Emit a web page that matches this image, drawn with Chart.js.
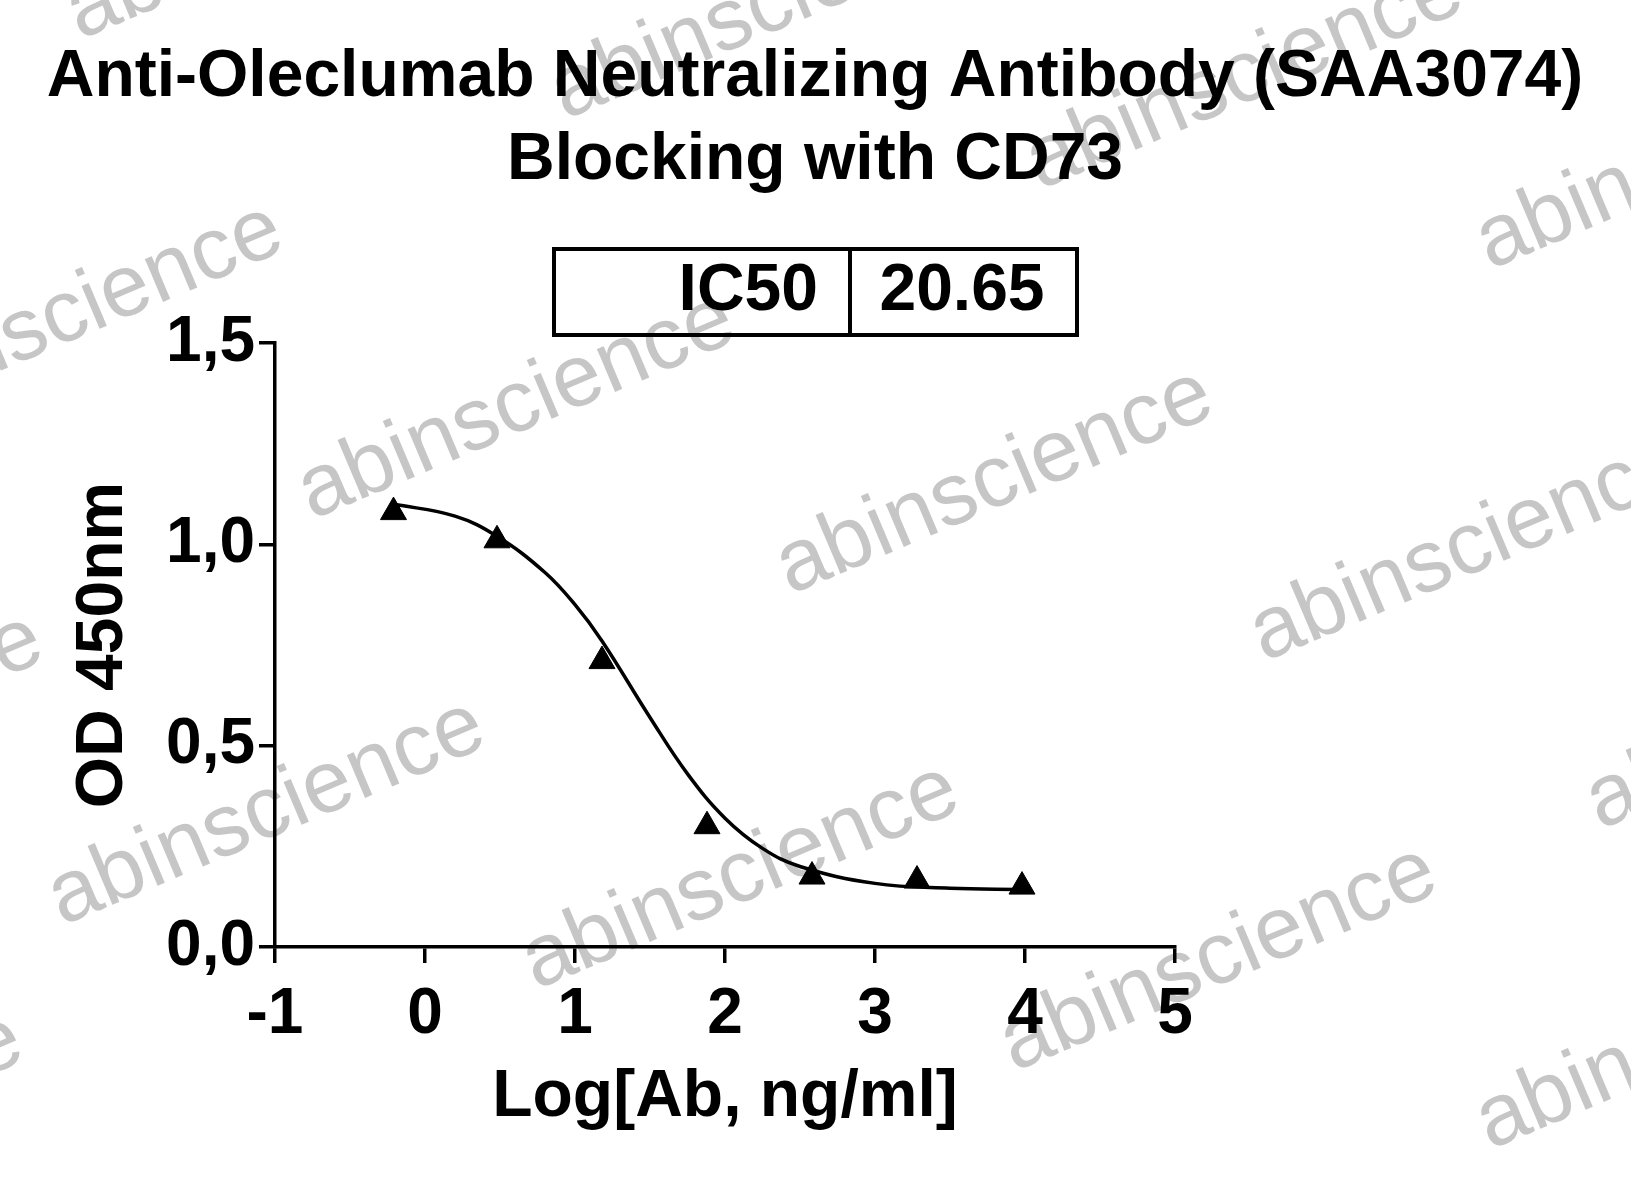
<!DOCTYPE html>
<html><head><meta charset="utf-8">
<script src="https://cdn.jsdelivr.net/npm/chart.js@4"></script>
<style>html,body{margin:0;padding:0;background:#fff}#w{width:1631px;height:1184px}</style>
</head><body><div id="w"><canvas id="c"></canvas></div>
<script>
const logConc = [-0.21, 0.48, 1.18, 1.88, 2.58, 3.28, 3.98];
const odValues = [1.08, 1.01, 0.71, 0.30, 0.175, 0.165, 0.15];
const fitX = [-0.21, 0.2, 0.48, 0.8, 1.0, 1.18, 1.5, 1.75, 2.0, 2.25, 2.5, 3.0, 3.5, 3.98];
const fitY = [1.10, 1.07, 1.02, 0.93, 0.85, 0.76, 0.57, 0.43, 0.32, 0.245, 0.20, 0.158, 0.146, 0.143];
const xTicks = [-1, 0, 1, 2, 3, 4, 5];
const yTicks = [0, 0.5, 1.0, 1.5];
const titleLines = ["Anti-Oleclumab Neutralizing Antibody (SAA3074)", "Blocking with CD73"];
const ic50Label = "IC50", ic50Value = "20.65";
const FONT = "'Liberation Sans', Arial, sans-serif";

const deco = {
  id: 'deco',
  beforeDraw(ch) {
    const ctx = ch.ctx;
    ctx.save();
    ctx.fillStyle = 'rgba(160,160,160,0.6)';
    ctx.font = `88px ${FONT}`;
    const wm = [[-140,430],[312,520],[790,595],[1264,662],[62,926],[536,990],[1014,1072],[-400,1240],[1490,270],[1040,190],[565,120],[80,40],[-380,840],[1490,1150],[1600,830]];
    for (const [x,y] of wm) { ctx.save(); ctx.translate(x,y); ctx.rotate(-0.40); ctx.fillText('abinscience',0,0); ctx.restore(); }
    ctx.restore();
  },
  afterDraw(ch) {
    const ctx = ch.ctx;
    ctx.save();
    ctx.fillStyle = '#000';
    ctx.font = `bold 66px ${FONT}`;
    ctx.textAlign = 'center'; ctx.textBaseline = 'middle';
    ctx.fillText(titleLines[0], 815, 78);
    ctx.fillText(titleLines[1], 815, 161);
    ctx.lineWidth = 4; ctx.strokeStyle = '#000';
    ctx.strokeRect(554, 249, 523, 86);
    ctx.beginPath(); ctx.moveTo(850, 249); ctx.lineTo(850, 335); ctx.stroke();
    ctx.font = `bold 66px ${FONT}`;
    ctx.textAlign = 'right';
    ctx.fillText(ic50Label, 818, 292);
    ctx.textAlign = 'center';
    ctx.fillText(ic50Value, 962, 292);
    ctx.restore();
  }
};

new Chart(document.getElementById('c'), {
  type: 'scatter',
  data: { datasets: [
    { data: fitX.map((x,i)=>({x, y: fitY[i]})), showLine: true, borderColor: '#000', borderWidth: 3.5, pointRadius: 0, tension: 0.4, fill: false },
    { data: logConc.map((x,i)=>({x, y: odValues[i]})), pointStyle: 'triangle', pointRadius: 15, backgroundColor: '#000', borderColor: '#000' }
  ]},
  options: {
    responsive: true, maintainAspectRatio: false, animation: false,
    layout: { padding: { left: 0, right: 456, top: 343, bottom: 0 } },
    plugins: { legend: { display: false }, tooltip: { enabled: false } },
    scales: {
      x: {
        type: 'linear', min: -1, max: 5,
        afterBuildTicks: s => { s.ticks = xTicks.map(v => ({ value: v })); },
        afterFit: s => { s.height = 237; },
        grid: { drawOnChartArea: false, drawTicks: true, tickLength: 16, color: '#000', lineWidth: 3.5 },
        border: { color: '#000', width: 3.5 },
        ticks: { color: '#000', font: { family: FONT, weight: 'bold', size: 64 }, padding: 14 },
        title: { display: true, text: 'Log[Ab, ng/ml]', color: '#000', font: { family: FONT, weight: 'bold', size: 66 }, padding: { top: 0, bottom: 47 } }
      },
      y: {
        type: 'linear', min: 0, max: 1.5,
        afterBuildTicks: s => { s.ticks = yTicks.map(v => ({ value: v })); },
        afterFit: s => { s.width = 275; },
        grid: { drawOnChartArea: false, drawTicks: true, tickLength: 16, color: '#000', lineWidth: 3.5 },
        border: { color: '#000', width: 3.5 },
        ticks: { color: '#000', font: { family: FONT, weight: 'bold', size: 64 }, padding: 4, callback: v => v.toFixed(1).replace('.', ',') },
        title: { display: true, text: 'OD 450nm', color: '#000', font: { family: FONT, weight: 'bold', size: 66 }, padding: { top: 64, bottom: 0 } }
      }
    }
  },
  plugins: [deco]
});
</script></body></html>
